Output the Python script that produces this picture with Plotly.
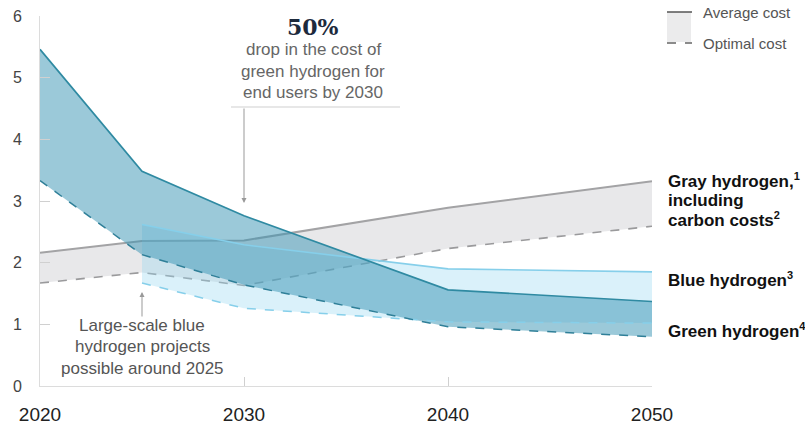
import plotly.graph_objects as go

# ---- data ----
years = [2020, 2025, 2030, 2040, 2050]
green_avg = [5.46, 3.48, 2.76, 1.56, 1.37]
green_opt = [3.33, 2.13, 1.64, 0.96, 0.80]
gray_avg = [2.16, 2.35, 2.36, 2.89, 3.32]
gray_opt = [1.67, 1.84, 1.63, 2.23, 2.59]
blue_years = [2025, 2030, 2040, 2050]
blue_avg = [2.62, 2.29, 1.90, 1.85]
blue_opt = [1.67, 1.26, 1.04, 1.02]
y_ticks = [0, 1, 2, 3, 4, 5, 6]
x_ticks = [2020, 2030, 2040, 2050]

W, H = 805, 424
L, R, T, B = 40, 153, 16, 38
PW, PH = W - L - R, H - T - B


def px(x):
    return (x - L) / PW


def py(y):
    return (H - B - y) / PH


def yval(y):
    return py(y) * 6


fig = go.Figure()


def band(xs, top, bot, fill):
    fig.add_trace(go.Scatter(
        x=list(xs) + list(xs)[::-1], y=list(top) + list(bot)[::-1],
        fill="toself", fillcolor=fill, line=dict(width=0),
        mode="lines", hoverinfo="skip", showlegend=False))


def line(xs, ys, color, width, dash="solid"):
    fig.add_trace(go.Scatter(
        x=xs, y=ys, mode="lines", line=dict(color=color, width=width, dash=dash),
        hoverinfo="skip", showlegend=False))


# gray
band(years, gray_avg, gray_opt, "#e8e8ea")
line(years, gray_avg, "#a3a3a5", 2)
line(years, gray_opt, "#9a9a9c", 1.6, "dash")
# blue fill under green
band(blue_years, blue_avg, blue_opt, "rgba(150,215,240,0.35)")
# green
band(years, green_avg, green_opt, "rgba(55,148,180,0.5)")
# blue lines
line(blue_years, blue_avg, "#86cfea", 1.6)
line(blue_years, blue_opt, "#86cfea", 1.5, "dash")
# green lines
line(years, green_avg, "#2f8aa2", 1.7)
line(years, green_opt, "#2f7f98", 1.5, "dash")

shapes = []
annotations = []


def text(xp, ypix, t, size, color, anchor="center", family=None):
    f = dict(size=size, color=color)
    if family:
        f["family"] = family
    annotations.append(dict(x=px(xp), y=py(ypix), xref="paper", yref="paper",
                            text=t, showarrow=False, xanchor=anchor,
                            yanchor="middle", font=f))


def sup(n):
    return "<sup><span style='font-size:11px'>%s</span></sup>" % n


# legend
shapes.append(dict(type="rect", xref="paper", yref="paper",
                   x0=px(667), x1=px(691), y0=py(42), y1=py(12),
                   fillcolor="#ebebec", line=dict(width=0)))
shapes.append(dict(type="line", xref="paper", yref="paper",
                   x0=px(667), x1=px(692), y0=py(12), y1=py(12),
                   line=dict(color="#555", width=1.5)))
shapes.append(dict(type="line", xref="paper", yref="paper",
                   x0=px(667), x1=px(692), y0=py(43), y1=py(43),
                   line=dict(color="#666", width=1.5, dash="dash")))
text(701, 12, "Average cost", 15, "#555", "left")
text(701, 43, "Optimal cost", 15, "#555", "left")

# 50% callout
text(313, 27, "<b>50%</b>", 22, "#1d2a3c", family="DejaVu Serif")
for yy, t in zip([50, 71, 92], ["drop in the cost of", "green hydrogen for", "end users by 2030"]):
    text(313, yy, t, 17, "#666")
shapes.append(dict(type="line", xref="paper", yref="paper",
                   x0=px(231), x1=px(400), y0=py(107), y1=py(107),
                   line=dict(color="#d0d0d0", width=1.2)))
annotations.append(dict(x=2030, y=yval(203), xref="x", yref="y",
                        text="", showarrow=True, ax=0, ay=-96, arrowhead=2,
                        arrowsize=1, arrowwidth=1, arrowcolor="#999"))

# blue projects callout
annotations.append(dict(x=2025, y=yval(292), xref="x", yref="y",
                        text="", showarrow=True, ax=0, ay=26, arrowhead=2,
                        arrowsize=1, arrowwidth=1, arrowcolor="#999"))
for yy, t in zip([325, 346, 368], ["Large-scale blue", "hydrogen projects", "possible around 2025"]):
    text(142, yy, t, 17, "#555")

# right labels
for yy, t in zip([180, 200, 220], ["<b>Gray hydrogen,%s</b>" % sup(1), "<b>including</b>",
                                   "<b>carbon costs%s</b>" % sup(2)]):
    text(666, yy, t, 17, "#111", "left")
text(666, 279, "<b>Blue hydrogen%s</b>" % sup(3), 17, "#111", "left")
text(666, 330, "<b>Green hydrogen%s</b>" % sup(4), 17, "#111", "left")

fig.update_layout(
    width=W, height=H,
    margin=dict(l=L, r=R, t=T, b=B),
    paper_bgcolor="white", plot_bgcolor="white",
    font=dict(family="Liberation Sans, Arial, sans-serif"),
    shapes=shapes, annotations=annotations,
    showlegend=False,
)
fig.update_xaxes(range=[2020, 2050], tickvals=x_ticks, ticktext=[str(v) for v in x_ticks],
                 showgrid=False, zeroline=False, showline=True, linecolor="#dcdcdc",
                 linewidth=1, ticks="inside", ticklen=9, tickcolor="#d0d0d0",
                 tickfont=dict(size=19, color="#222"), ticklabelstandoff=11,
                 automargin=False, fixedrange=True)
fig.update_yaxes(range=[0, 6], tickvals=y_ticks, showgrid=False, zeroline=False,
                 showline=True, linecolor="#dcdcdc", linewidth=1, ticks="inside",
                 ticklen=10, tickcolor="#d0d0d0", tickfont=dict(size=16, color="#444"),
                 ticklabelstandoff=14, automargin=False, fixedrange=True)

fig.write_html("out.html")
